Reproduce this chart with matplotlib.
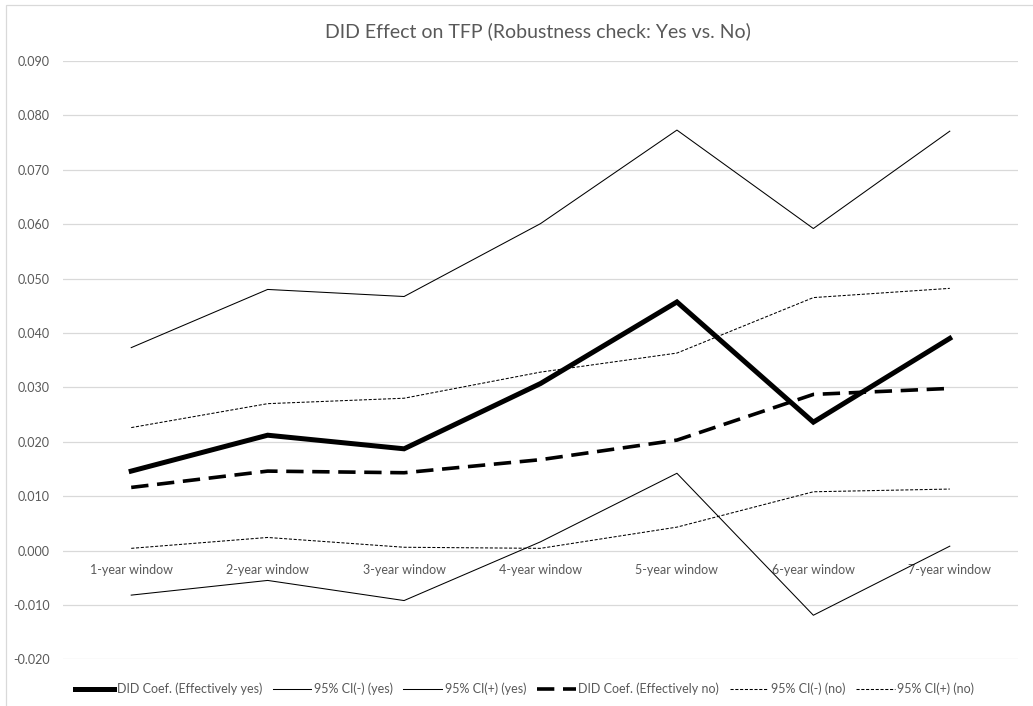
import numpy as np
import matplotlib.pyplot as plt
from matplotlib.patches import Rectangle

plt.rcParams['font.family'] = ['Lato', 'DejaVu Sans']

windows = ['1-year window', '2-year window', '3-year window', '4-year window',
           '5-year window', '6-year window', '7-year window']

coef_yes = [0.0146, 0.0212, 0.0187, 0.0307, 0.0457, 0.0236, 0.0390]
ci_lo_yes = [-0.0082, -0.0055, -0.0092, 0.0016, 0.0142, -0.0119, 0.0008]
ci_hi_yes = [0.0373, 0.0480, 0.0467, 0.0601, 0.0773, 0.0592, 0.0771]

coef_no = [0.0116, 0.0146, 0.0143, 0.0167, 0.0203, 0.0287, 0.0298]
ci_lo_no = [0.0004, 0.0024, 0.0006, 0.0004, 0.0043, 0.0108, 0.0113]
ci_hi_no = [0.0226, 0.0270, 0.0280, 0.0328, 0.0363, 0.0465, 0.0482]

grey = '#595959'
x = np.arange(len(windows))

fig = plt.figure(figsize=(10.33, 7.06), dpi=100)
fig.patches.append(Rectangle((6 / 1033, -0.1), 1.2, 1 - 5 / 706 + 0.1,
                             transform=fig.transFigure, fill=False,
                             edgecolor='#d9d9d9', lw=0.9))

ax = fig.add_axes([63 / 1033, 1 - 659.3 / 706, (1018 - 63) / 1033, (659.3 - 61) / 706])

ax.plot(x, coef_yes, color='black', lw=3.6, solid_joinstyle='miter',
        label='DID Coef. (Effectively yes)')
ax.plot(x, ci_lo_yes, color='black', lw=0.75, label='95% CI(-) (yes)')
ax.plot(x, ci_hi_yes, color='black', lw=0.75, label='95% CI(+) (yes)')
ax.plot(x, coef_no, color='black', lw=2.6, dashes=(4.8, 2.4),
        label='DID Coef. (Effectively no)')
ax.plot(x, ci_lo_no, color='black', lw=0.75, dashes=(3, 1.6), label='95% CI(-) (no)')
ax.plot(x, ci_hi_no, color='black', lw=0.75, dashes=(3, 1.6), label='95% CI(+) (no)')

ax.set_xlim(-0.5, len(windows) - 0.5)
ax.set_ylim(-0.02, 0.09)
ax.set_yticks(np.arange(-0.02, 0.0901, 0.01))
ax.set_yticklabels([f'{v:.3f}' for v in np.arange(-0.02, 0.0901, 0.01)])
ax.grid(axis='y', color='#d9d9d9', lw=0.9)
ax.set_axisbelow(True)

# category axis crosses at zero
ax.spines['bottom'].set_position(('data', 0))
for s in ['top', 'right', 'left', 'bottom']:
    ax.spines[s].set_visible(False)
ax.set_xticks(x)
ax.set_xticklabels(windows)
ax.tick_params(axis='x', length=0, pad=10, labelsize=9, labelcolor=grey)
ax.tick_params(axis='y', length=0, pad=9.5, labelsize=9, labelcolor=grey)

fig.text(538 / 1033, 1 - 31 / 706, 'DID Effect on TFP (Robustness check: Yes vs. No)',
         ha='center', va='center', fontsize=14, color=grey)

fig.legend(loc='center', bbox_to_anchor=(0.508, 1 - 689 / 706), ncol=6, frameon=False,
           fontsize=9, labelcolor=grey, handlelength=3.1, handletextpad=0.2,
           columnspacing=0.85)

fig.savefig('out.png', dpi=100)
